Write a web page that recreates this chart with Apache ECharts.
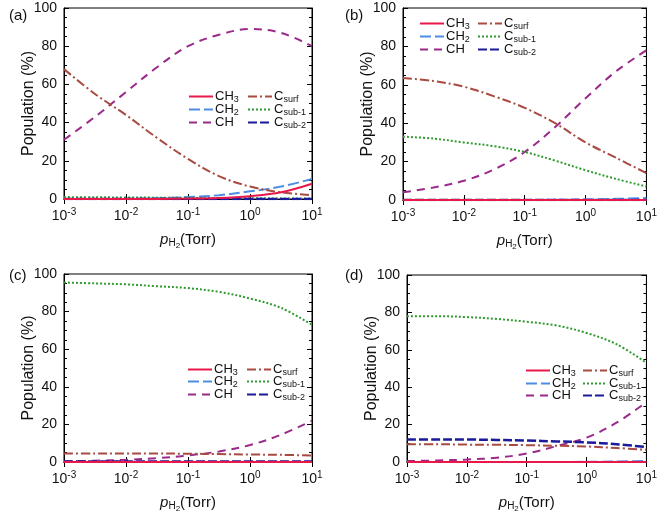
<!DOCTYPE html>
<html>
<head>
<meta charset="utf-8">
<script src="https://cdn.jsdelivr.net/npm/echarts@6/dist/echarts.min.js"></script>
<style>
html,body{margin:0;padding:0;background:#fff;}
#chart{width:660px;height:514px;}
</style>
</head>
<body>
<div id="chart"></div>
<script>
// ---- data ----
const pressureTorr = [0.001, 0.00316, 0.01, 0.0316, 0.1, 0.316, 1, 3.16, 10];
const xTickLabels = ['10^-3', '10^-2', '10^-1', '10^0', '10^1'];
const yTicks = [0, 20, 40, 60, 80, 100];
const panelLabels = ['(a)', '(b)', '(c)', '(d)'];
const speciesNames = ['CH3', 'CH2', 'CH', 'Csurf', 'Csub-1', 'Csub-2'];

// panel (a)
const a_CH3   = [0, 0, 0, 0.05, 0.2, 0.5, 1.5, 3.5, 8];
const a_CH2   = [0, 0, 0.1, 0.4, 1, 2, 4, 6.5, 10.5];
const a_CH    = [31, 43, 56, 69, 80, 86, 89, 87, 80];
const a_Csurf = [68, 55, 44, 32, 21, 12, 6.5, 3.5, 2];
const a_Csub1 = [1, 0.9, 0.8, 0.7, 0.6, 0.5, 0.4, 0.3, 0.3];
const a_Csub2 = [0, 0, 0, 0, 0, 0, 0, 0, 0];
// panel (b)
const b_CH3   = [0, 0, 0, 0, 0, 0, 0, 0, 0];
const b_CH2   = [0, 0, 0, 0, 0, 0.1, 0.3, 0.6, 1];
const b_CH    = [4, 6.5, 10, 16, 25, 38, 53, 67, 78];
const b_Csurf = [63.5, 62, 59, 54, 48, 40, 30, 22, 14];
const b_Csub1 = [33, 32, 30, 28, 25, 20.5, 15.5, 11, 7];
const b_Csub2 = [0, 0, 0, 0, 0, 0, 0, 0, 0];
// panel (c)
const c_CH3   = [0, 0, 0, 0, 0, 0, 0, 0, 0];
const c_CH2   = [0, 0, 0, 0, 0, 0, 0, 0, 0.1];
const c_CH    = [0.3, 0.7, 1.2, 2, 3.5, 5.6, 9, 14.5, 22];
const c_Csurf = [4.5, 4.5, 4.5, 4.5, 4.4, 4.2, 4, 3.8, 3.5];
const c_Csub1 = [95.5, 95, 94.5, 93.5, 92.5, 90.5, 87, 82, 73];
const c_Csub2 = [0.3, 0.3, 0.3, 0.3, 0.3, 0.3, 0.3, 0.3, 0.3];
// panel (d)
const d_CH3   = [0, 0, 0, 0, 0, 0, 0, 0, 0];
const d_CH2   = [0, 0, 0, 0, 0, 0, 0.1, 0.3, 0.5];
const d_CH    = [0.5, 0.8, 1.3, 2.3, 4.5, 8.5, 13, 21, 32];
const d_Csurf = [9.5, 9.5, 9.3, 9.2, 9, 8.7, 8.3, 7.5, 6.5];
const d_Csub1 = [78, 78, 77.5, 76.5, 75, 73, 69, 63, 53];
const d_Csub2 = [12, 12, 12, 11.8, 11.5, 11, 10.5, 9.5, 8];

const panels = [
  [a_CH3, a_CH2, a_CH, a_Csurf, a_Csub1, a_Csub2],
  [b_CH3, b_CH2, b_CH, b_Csurf, b_Csub1, b_Csub2],
  [c_CH3, c_CH2, c_CH, c_Csurf, c_Csub1, c_Csub2],
  [d_CH3, d_CH2, d_CH, d_Csurf, d_Csub1, d_Csub2]
];

// ---- styles / layout ----
const FONT = "'Liberation Sans', Arial, sans-serif";
const colors = ['#e8194a', '#4d8de6', '#9a2a8a', '#a84a42', '#2f9a2f', '#1a1a9a'];
const dashes = ['solid', [11, 4], [8, 6], [9, 3, 2, 3], [2, 2], [9, 3]];
const widths = [2, 2, 2, 2, 2, 2.5];
const grids = [
  {left: 64, top: 8, width: 248, height: 191},
  {left: 403, top: 8, width: 244, height: 192},
  {left: 64, top: 274, width: 248, height: 190},
  {left: 407, top: 275, width: 240, height: 190}
];
const legendPos = [
  {cols: [188, 247], rows: [98, 111, 124]},
  {cols: [419, 477], rows: [25, 38, 51]},
  {cols: [187, 246], rows: [371, 383, 396]},
  {cols: [525, 582], rows: [372, 385, 397]}
];
const labelPos = [[4, 3], [340, 3], [4, 263], [340, 263]];

const legendRich = {
  n: {fontSize: 13, fontFamily: FONT, color: '#111'},
  s: {fontSize: 9, fontFamily: FONT, color: '#111', padding: [6, 0, 0, 0]}
};
function legendFmt(name) {
  if (name === 'CH3') return '{n|CH}{s|3}';
  if (name === 'CH2') return '{n|CH}{s|2}';
  if (name === 'CH') return '{n|CH}';
  if (name === 'Csurf') return '{n|C}{s|surf}';
  if (name === 'Csub-1') return '{n|C}{s|sub-1}';
  if (name === 'Csub-2') return '{n|C}{s|sub-2}';
  return name;
}

const option = {
  backgroundColor: '#fff',
  animation: false,
  title: [], grid: [], xAxis: [], yAxis: [], series: [], legend: []
};

panels.forEach((p, i) => {
  option.grid.push(Object.assign({show: true, borderColor: '#000', borderWidth: 1, backgroundColor: '#fff'}, grids[i]));
  option.title.push({text: panelLabels[i], left: labelPos[i][0], top: labelPos[i][1],
    textStyle: {fontSize: 15, fontWeight: 'normal', fontFamily: FONT, color: '#111'}});
  option.xAxis.push({
    type: 'log', logBase: 10, min: 0.001, max: 10, gridIndex: i, position: 'bottom',
    name: '{i|p}{s|H}{ss|2}{n|(Torr)}', nameLocation: 'middle', nameGap: 31,
    nameTextStyle: {rich: {
      i: {fontSize: 15, fontStyle: 'italic', fontFamily: FONT, color: '#111'},
      s: {fontSize: 10, fontFamily: FONT, color: '#111', padding: [7, 0, 0, 0]},
      ss: {fontSize: 8, fontFamily: FONT, color: '#111', padding: [12, 0, 0, 0]},
      n: {fontSize: 15, fontFamily: FONT, color: '#111'}
    }},
    axisLine: {show: true, lineStyle: {color: '#000', width: 1}},
    axisTick: {show: true, inside: true, length: 5, lineStyle: {color: '#000'}},
    splitLine: {show: false},
    axisLabel: {
      margin: 8,
      formatter: function (v) {
        const e = Math.round(Math.log10(v));
        const lab = xTickLabels.find(t => t === '10^' + e) || ('10^' + e);
        const parts = lab.split('^');
        return '{b|' + parts[0] + '}{s|' + parts[1] + '}';
      },
      rich: {
        b: {fontSize: 14, fontFamily: FONT, color: '#111'},
        s: {fontSize: 10, fontFamily: FONT, color: '#111', padding: [0, 0, 8, 0]}
      }
    }
  });
  option.xAxis.push({
    type: 'log', logBase: 10, min: 0.001, max: 10, gridIndex: i, position: 'top',
    axisLine: {show: true, lineStyle: {color: '#000'}},
    axisTick: {show: true, inside: true, length: 5, lineStyle: {color: '#000'}},
    axisLabel: {show: false}, splitLine: {show: false}
  });
  option.yAxis.push({
    type: 'value', min: yTicks[0], max: yTicks[yTicks.length - 1], interval: yTicks[1] - yTicks[0], gridIndex: i, position: 'left',
    name: 'Population (%)', nameLocation: 'middle', nameGap: 27, nameMoveOverlap: false,
    nameTextStyle: {fontSize: 16, fontFamily: FONT, color: '#111'},
    axisLine: {show: true, lineStyle: {color: '#000'}},
    axisTick: {show: true, inside: true, length: 5, lineStyle: {color: '#000'}},
    minorTick: {show: true, splitNumber: 4, length: 3, lineStyle: {color: '#000'}},
    splitLine: {show: false},
    axisLabel: {fontSize: 14, fontFamily: FONT, color: '#111', margin: 7}
  });
  option.yAxis.push({
    type: 'value', min: yTicks[0], max: yTicks[yTicks.length - 1], interval: yTicks[1] - yTicks[0], gridIndex: i, position: 'right',
    axisLine: {show: true, lineStyle: {color: '#000'}},
    axisTick: {show: true, inside: true, length: 5, lineStyle: {color: '#000'}},
    minorTick: {show: true, splitNumber: 4, length: 3, lineStyle: {color: '#000'}},
    axisLabel: {show: false}, splitLine: {show: false}
  });
  p.forEach((vals, k) => {
    option.series.push({
      name: speciesNames[k], type: 'line', xAxisIndex: 2 * i, yAxisIndex: 2 * i,
      data: pressureTorr.map((x, j) => [x, vals[j]]),
      smooth: 0.35, symbol: 'none', showSymbol: false, z: k === 0 ? 4 : 3,
      lineStyle: {color: colors[k], width: widths[k], type: dashes[k]},
      itemStyle: {color: colors[k]}
    });
    const col = k < 3 ? 0 : 1, row = k % 3;
    option.legend.push({
      data: [speciesNames[k]],
      left: legendPos[i].cols[col], top: legendPos[i].rows[row] - 8,
      orient: 'horizontal', itemWidth: 24, itemHeight: 10, padding: 0, selectedMode: false,
      formatter: legendFmt,
      itemStyle: {opacity: 0, borderWidth: 0},
      textStyle: {rich: legendRich, padding: [0, 0, 0, -3]}
    });
  });
});

const chart = echarts.init(document.getElementById('chart'), null, {renderer: 'canvas'});
chart.setOption(option);
</script>
</body>
</html>
